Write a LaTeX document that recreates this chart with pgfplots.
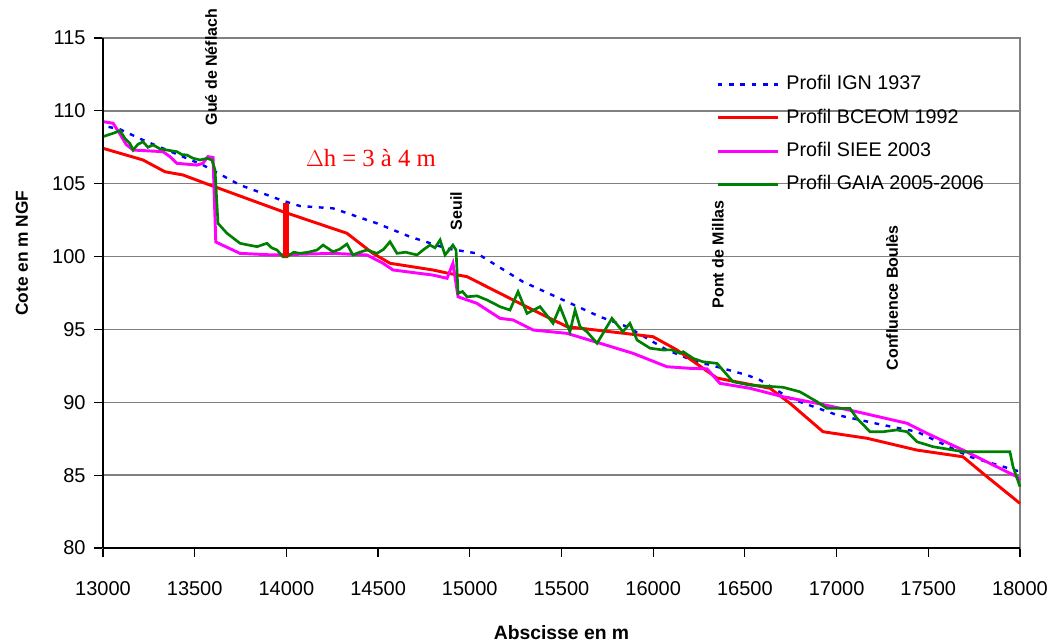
\documentclass[border=0pt]{standalone}
\usepackage{pgfplots}
\pgfplotsset{compat=1.18}
\usepackage{fontspec}
\setmainfont{Liberation Sans}
\newfontfamily\serifont{Liberation Serif}
\definecolor{ignblue}{RGB}{0,0,255}
\definecolor{bceomred}{RGB}{255,0,0}
\definecolor{sieemag}{RGB}{255,0,255}
\definecolor{gaiagreen}{RGB}{0,128,0}
\definecolor{gridgray}{RGB}{128,128,128}
\begin{document}
\begin{tikzpicture}
\begin{axis}[
  name=ax,
  scale only axis,
  width=687.75pt, height=382.5pt,
  xmin=13000, xmax=18000, ymin=80, ymax=115,
  xtick={13000,13500,...,18000},
  ytick={80,85,...,115},
  scaled x ticks=false,
  xtick pos=bottom, ytick pos=left,
  tick align=outside,
  major tick length=6.5pt,
  tick style={black, line width=0.9pt},
  ymajorgrids,
  grid style={gridgray, line width=1.1pt},
  axis line style={gridgray, line width=1.1pt},
  /pgf/number format/assume math mode=true,
  /pgf/number format/set thousands separator={},
  tick label style={font=\fontsize{15}{17}\selectfont},
  yticklabel style={xshift=-3pt},
  xticklabel style={yshift=-15pt},
  xlabel={Abscisse en m},
  ylabel={Cote en m NGF},
  xlabel style={at={(axis description cs:0.5,-0.165)}, anchor=center, font=\fontsize{14.5}{17}\selectfont\bfseries},
  ylabel style={at={(axis description cs:-0.0883,0.578)}, anchor=center, rotate=0, font=\fontsize{13}{15}\selectfont\bfseries},
  clip=false,
  legend cell align=left,
  legend image code/.code={\draw[#1] (0pt,0pt) -- (45pt,0pt); \path (49pt,0pt);},
  legend style={draw=none, fill=none, at={(axis description cs:0.664,0.937)}, anchor=north west,
    font=\fontsize{14.8}{17}\selectfont, row sep=8pt,
    nodes={inner sep=1.5pt, text height=11pt, text depth=3pt}},
  after end axis/.code={
    \draw[black, line width=1.1pt] (rel axis cs:0,0) -- (rel axis cs:0,1);
    \draw[black, line width=1.1pt] (rel axis cs:0,0) -- (rel axis cs:1,0);
  },
]
% Profil IGN 1937
\addplot[ignblue, line width=1.8pt, dash pattern=on 3.5pt off 5pt] coordinates {
(13030,108.9) (13093,108.73) (13218,108.0) (13545,106.28) (13747,104.91) (13981,103.83)
(14074,103.47) (14254,103.31) (14494,102.28) (14674,101.36) (14876,100.55) (15039,100.22)
(15290,98.27) (15710,95.87) (15857,95.19) (16075,93.59) (16255,92.67) (16300,92.6)
(16511,91.87) (16582,91.53) (16746,90.27) (17002,89.13) (17253,88.44) (17438,87.98)
(17727,86.26) (17984,85.3) (18000,85.3)
};
\addlegendentry{Profil IGN 1937}
% Profil BCEOM 1992
\addplot[bceomred, line width=2.2pt] coordinates {
(13000,107.43) (13218,106.63) (13338,105.82) (13436,105.6) (13583,104.91) (13981,103.08)
(14330,101.6) (14472,100.22) (14565,99.54) (14799,99.08) (14876,98.87) (14985,98.62)
(15345,96.33) (15530,95.19) (15999,94.5) (16130,93.59) (16348,91.66) (16637,90.96)
(16746,89.93) (16926,87.98) (17166,87.53) (17438,86.72) (17689,86.26) (17798,85.12)
(18000,83.06)
};
\addlegendentry{Profil BCEOM 1992}
% Profil SIEE 2003
\addplot[sieemag, line width=2.2pt] coordinates {
(13000,109.26) (13055,109.15) (13093,108.4) (13126,107.7) (13164,107.31) (13327,107.2)
(13365,106.86) (13403,106.4) (13512,106.28) (13545,106.4) (13572,106.86) (13600,106.8)
(13615,101.0) (13747,100.22) (13927,100.11) (14254,100.22) (14439,100.11) (14527,99.54)
(14581,99.08) (14799,98.73) (14876,98.51) (14908,99.54) (14936,97.24) (15039,96.79)
(15165,95.76) (15236,95.65) (15345,94.96) (15530,94.73) (15710,94.05) (15890,93.36)
(16075,92.44) (16200,92.33) (16293,92.3) (16364,91.3) (16528,90.96) (16708,90.38)
(16893,89.93) (17111,89.35) (17384,88.56) (17493,87.87) (17689,86.72) (17984,84.89)
(18000,84.66)
};
\addlegendentry{Profil SIEE 2003}
% Profil GAIA 2005-2006
\addplot[gaiagreen, line width=2pt] coordinates {
(13000,108.23) (13055,108.46) (13093,108.64) (13120,108.1) (13147,107.77) (13164,107.31) (13190,107.7) (13218,107.88)
(13245,107.5) (13273,107.66) (13310,107.4) (13349,107.31) (13403,107.2) (13430,107.0) (13458,106.97) (13490,106.75) (13529,106.63) (13567,106.74)
(13594,106.63) (13611,105.94) (13627,102.28) (13676,101.6) (13747,100.91) (13790,100.8) (13840,100.68)
(13894,100.91) (13920,100.6) (13949,100.45) (13981,99.99) (14003,99.99) (14040,100.3) (14074,100.22) (14120,100.3) (14167,100.45)
(14200,100.79) (14254,100.33) (14290,100.5) (14330,100.86) (14363,100.11) (14400,100.3) (14439,100.45) (14494,100.22)
(14530,100.5) (14565,101.02) (14603,100.22) (14650,100.3) (14712,100.11) (14750,100.5) (14783,100.79) (14810,100.6) (14838,101.14) (14865,100.11)
(14908,100.79) (14925,100.45) (14936,97.48) (14960,97.6) (14985,97.24) (15040,97.3) (15094,97.02) (15165,96.56)
(15219,96.33) (15263,97.59) (15312,96.1) (15383,96.56) (15454,95.42) (15492,96.56)
(15546,94.84) (15574,96.33) (15601,95.19) (15639,94.84) (15694,94.05) (15775,95.76)
(15835,94.84) (15873,95.42) (15912,94.27) (15983,93.71) (16053,93.59) (16100,93.6) (16146,93.36)
(16163,93.47) (16220,93.0) (16272,92.78) (16348,92.67) (16435,91.41) (16528,91.18) (16620,91.1) (16708,91.03)
(16800,90.72) (16893,90.04) (16948,89.58) (17073,89.58) (17111,88.9) (17182,87.98)
(17253,87.98) (17329,88.1) (17384,87.98) (17438,87.29) (17526,86.95) (17689,86.61)
(17945,86.61) (17962,85.58) (18000,84.21)
};
\addlegendentry{Profil GAIA 2005-2006}
% Delta h bar
\addplot[bceomred, line width=4.5pt, forget plot] coordinates {(14000,100) (14000,103.65)};
% annotations
\node[rotate=90, anchor=west, font=\fontsize{12}{14}\selectfont\bfseries] at (axis cs:13589,108.69) {Gué de Néflach};
\node[rotate=90, anchor=west, font=\fontsize{12}{14}\selectfont\bfseries] at (axis cs:14925,101.48) {Seuil};
\node[rotate=90, anchor=west, font=\fontsize{12}{14}\selectfont\bfseries] at (axis cs:16353,96.13) {Pont de Millas};
\node[rotate=90, anchor=west, font=\fontsize{12}{14}\selectfont\bfseries] at (axis cs:17302,91.87) {Confluence Boulès};
\node[anchor=base, text=bceomred, font=\serifont\fontsize{18.5}{21}\selectfont] at (axis cs:14461,106.2) {$\Delta$h = 3 à 4 m};
\end{axis}
\pgfresetboundingbox
\path (ax.south west) ++(-77.25pt,-71.25pt) rectangle ++(790.5pt,482.25pt);
\end{tikzpicture}
\end{document}
